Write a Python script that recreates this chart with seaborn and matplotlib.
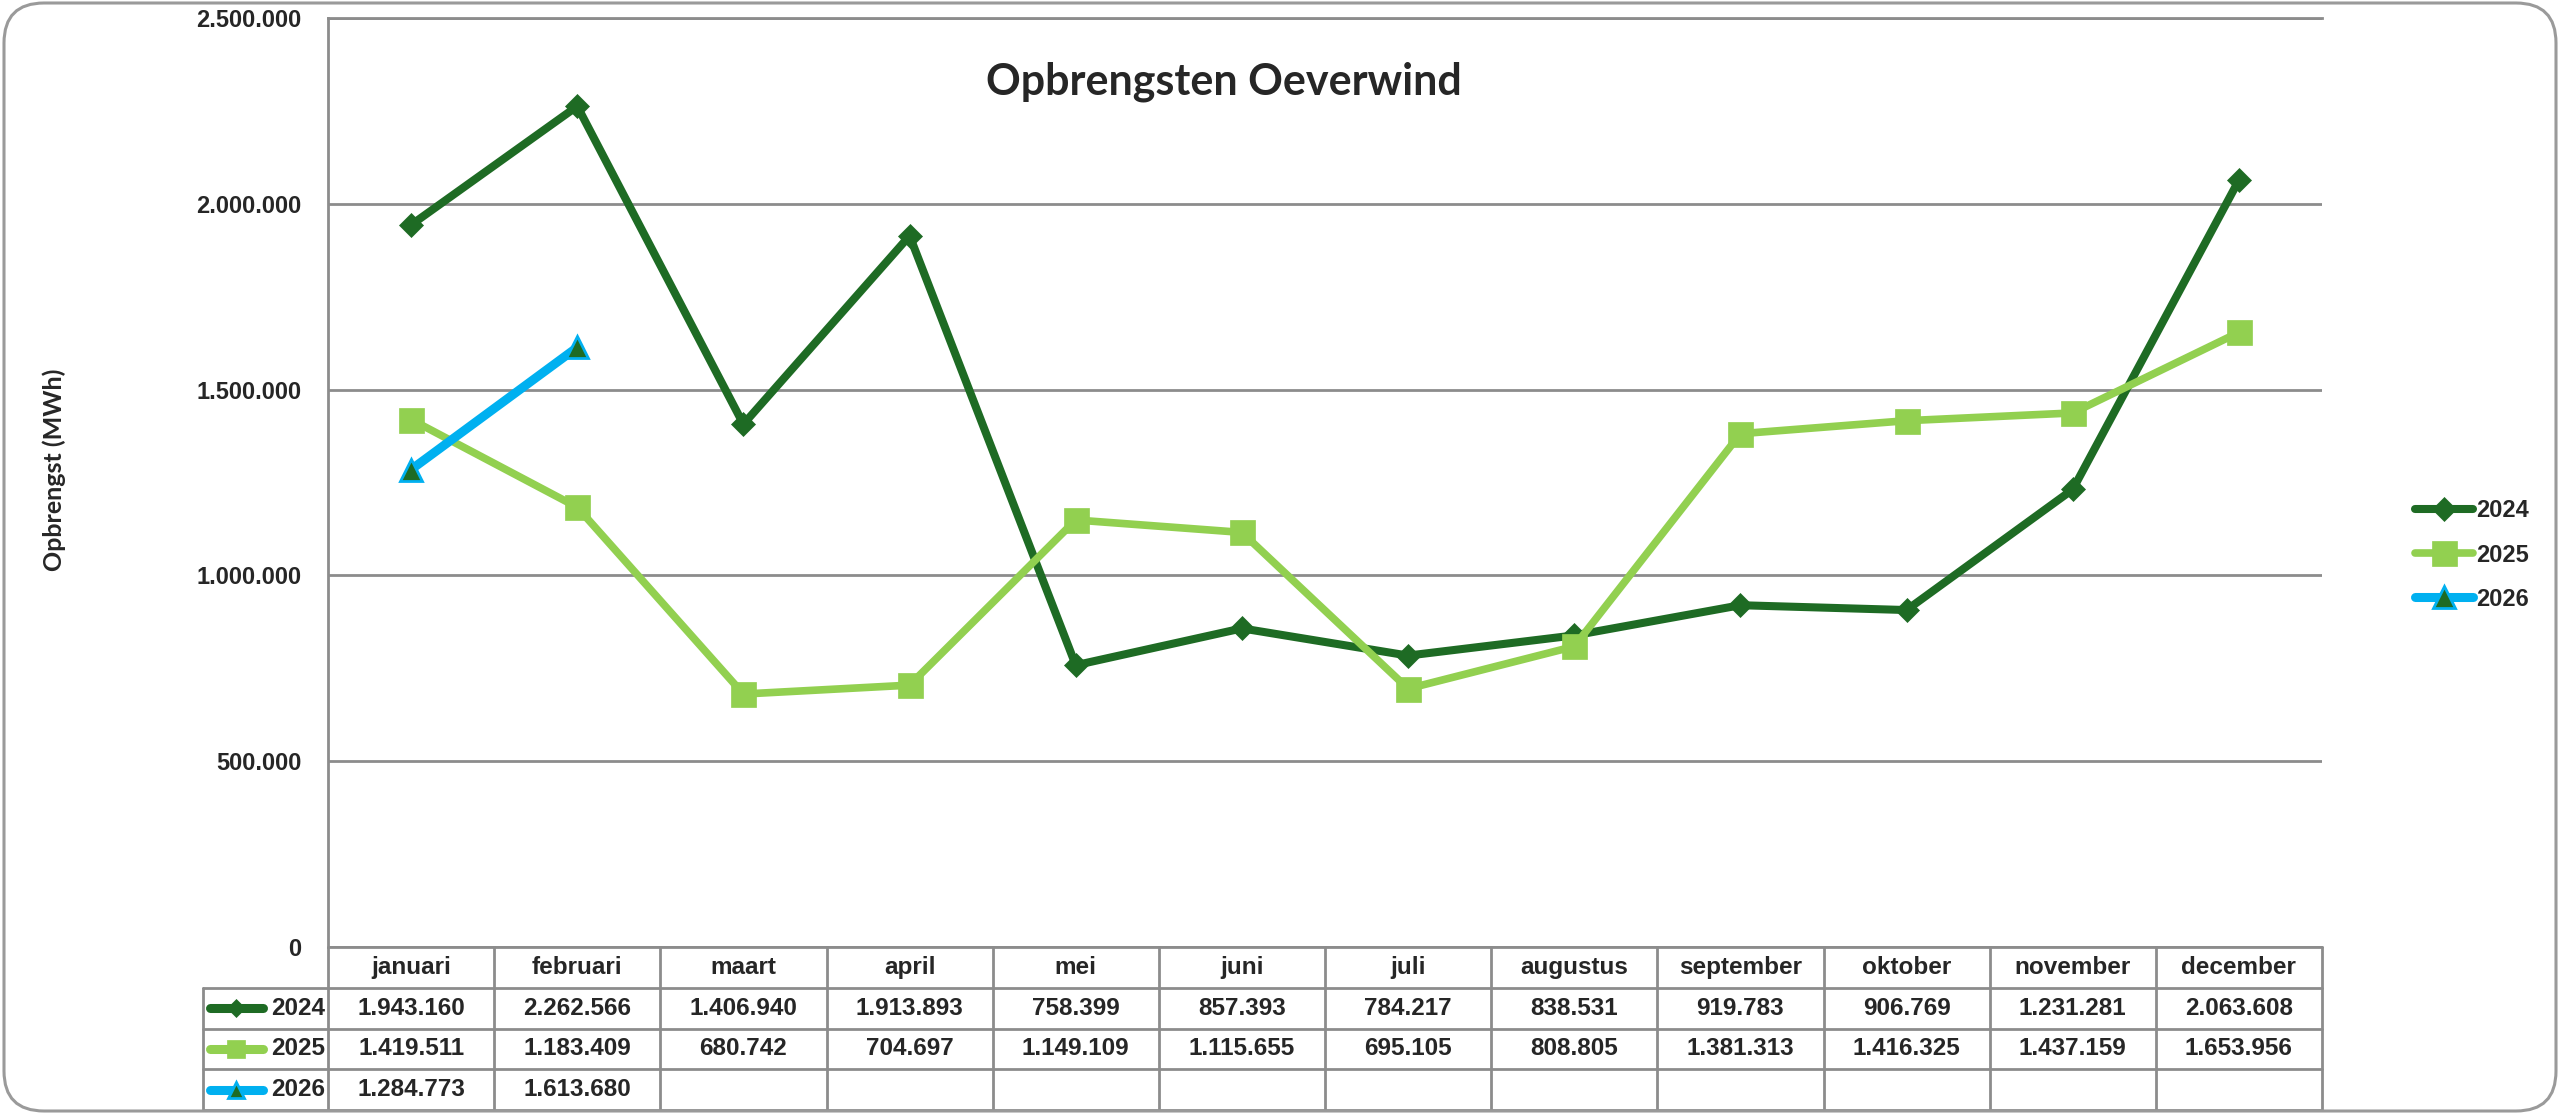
import numpy as np
import pandas as pd
import matplotlib
matplotlib.use("Agg")
import matplotlib.pyplot as plt
from matplotlib.patches import FancyBboxPatch
from matplotlib.transforms import IdentityTransform
from matplotlib.ticker import FuncFormatter
import seaborn as sns

# data
months = ["januari", "februari", "maart", "april", "mei", "juni", "juli",
          "augustus", "september", "oktober", "november", "december"]
years = ["2024", "2025", "2026"]
vals_2024 = [1943160, 2262566, 1406940, 1913893, 758399, 857393, 784217,
             838531, 919783, 906769, 1231281, 2063608]
vals_2025 = [1419511, 1183409, 680742, 704697, 1149109, 1115655, 695105,
             808805, 1381313, 1416325, 1437159, 1653956]
vals_2026 = [1284773, 1613680]
y_ticks = [0, 500000, 1000000, 1500000, 2000000, 2500000]

series = {"2024": vals_2024, "2025": vals_2025, "2026": vals_2026}

dark = "#1E6B24"
style = {
    "2024": dict(color=dark, linewidth=5.8, marker="D", markersize=12.5,
                 markerfacecolor=dark, markeredgecolor=dark, markeredgewidth=0.5),
    "2025": dict(color="#92D050", linewidth=5.5, marker="s", markersize=18,
                 markerfacecolor="#92D050", markeredgecolor="#92D050", markeredgewidth=0.5),
    "2026": dict(color="#00B0F0", linewidth=6.5, marker="^", markersize=16,
                 markerfacecolor=dark, markeredgecolor="#00B0F0", markeredgewidth=2),
}
key_marker = {"2024": 9, "2025": 13, "2026": 11}

sns.set_style("white")
ARIAL = ["Liberation Sans", "DejaVu Sans"]
plt.rcParams["font.family"] = ARIAL
grid_c = "#8C8C8C"
cell_font = dict(family=ARIAL, weight="bold", size=17.5)

W, H = 2560, 1114
fig = plt.figure(figsize=(W / 100, H / 100), dpi=100)


def px_box(x0, y0, x1, y1):
    return [x0 / W, 1 - y1 / H, (x1 - x0) / W, (y1 - y0) / H]


PL, PR, PT, PB = 328, 2322, 18, 947
ax = fig.add_axes(px_box(PL, PT, PR, PB))

handles = []
for yr, vals in series.items():
    df = pd.DataFrame({"maand": np.arange(len(vals)), "MWh": vals})
    sns.lineplot(data=df, x="maand", y="MWh", ax=ax, legend=False, label=yr,
                 **style[yr])
    handles.append(ax.get_lines()[-1])

ax.set_xlim(-0.5, 11.5)
ax.set_ylim(0, 2500000)
ax.set_xticks([])
ax.set_yticks(y_ticks)
ax.yaxis.set_major_formatter(FuncFormatter(lambda v, _: f"{int(v):,}".replace(",", ".")))
ax.tick_params(axis="y", length=0, pad=19)
for lab in ax.get_yticklabels():
    lab.set_fontfamily(ARIAL)
    lab.set_fontweight("bold")
    lab.set_fontsize(17)
ax.grid(axis="y", color=grid_c, linewidth=2)
ax.set_axisbelow(True)
ax.set_xlabel("")
ax.set_ylabel("")
for side in ["right", "bottom"]:
    ax.spines[side].set_visible(False)
for side in ["left", "top"]:
    ax.spines[side].set_color(grid_c)
    ax.spines[side].set_linewidth(2)

leg = ax.legend(handles, years, loc="center left", bbox_to_anchor=(2415 / W, 1 - 555 / H),
                bbox_transform=fig.transFigure, frameon=False, borderpad=0, borderaxespad=0,
                handlelength=2.45, handletextpad=0.15, labelspacing=0.9,
                prop=dict(family=ARIAL, weight="bold", size=17), numpoints=1)

# data table under the chart
TL, TT, TB = 203, 947, 1110
col_px = (PR - PL) / 12
xmin = -0.5 - (PL - TL) / col_px
tax = fig.add_axes(px_box(TL, TT, PR, TB))
tax.set_xlim(xmin, 11.5)
tax.set_ylim(4, 0)
tax.axis("off")

tax.plot([-0.5, 11.5], [0, 0], color=grid_c, lw=2, clip_on=False)
for r in range(1, 5):
    tax.plot([xmin, 11.5], [r, r], color=grid_c, lw=2, clip_on=False)
for k in range(13):
    tax.plot([-0.5 + k] * 2, [0, 4], color=grid_c, lw=2, clip_on=False)
tax.plot([xmin, xmin], [1, 4], color=grid_c, lw=2, clip_on=False)

for i, m in enumerate(months):
    tax.text(i, 0.5, m, ha="center", va="center", **cell_font)
for r, yr in enumerate(years, start=1):
    for i, v in enumerate(series[yr]):
        tax.text(i, r + 0.5, f"{v:,}".replace(",", "."), ha="center", va="center", **cell_font)
    st = style[yr]
    k0, k1 = xmin + 0.04, xmin + 0.36
    tax.plot([k0, k1], [r + 0.5] * 2, color=st["color"], lw=6.5,
             solid_capstyle="round", clip_on=False)
    tax.plot([(k0 + k1) / 2], [r + 0.5], linestyle="none", marker=st["marker"],
             markersize=key_marker[yr], markerfacecolor=st["markerfacecolor"],
             markeredgecolor=st["markeredgecolor"], markeredgewidth=st["markeredgewidth"],
             clip_on=False)
    tax.text(-0.5 - 0.02, r + 0.5, yr, ha="right", va="center", **cell_font)

fig.text(1224 / W, 1 - 82 / H, "Opbrengsten Oeverwind", ha="center", va="center",
         family=["Lato", "DejaVu Sans"], weight="bold", size=31)
fig.text(54 / W, 1 - 470 / H, "Opbrengst (MWh)", ha="center", va="center", rotation=90,
         family=["Lato", "DejaVu Sans"], weight="bold", size=18)

frame = FancyBboxPatch((4, 3), W - 8, H - 6, boxstyle="round,pad=0,rounding_size=40",
                       transform=IdentityTransform(), facecolor="none",
                       edgecolor="#9A9A9A", linewidth=2.2)
fig.add_artist(frame)

fig.savefig("out.png", dpi=100, facecolor="white")
